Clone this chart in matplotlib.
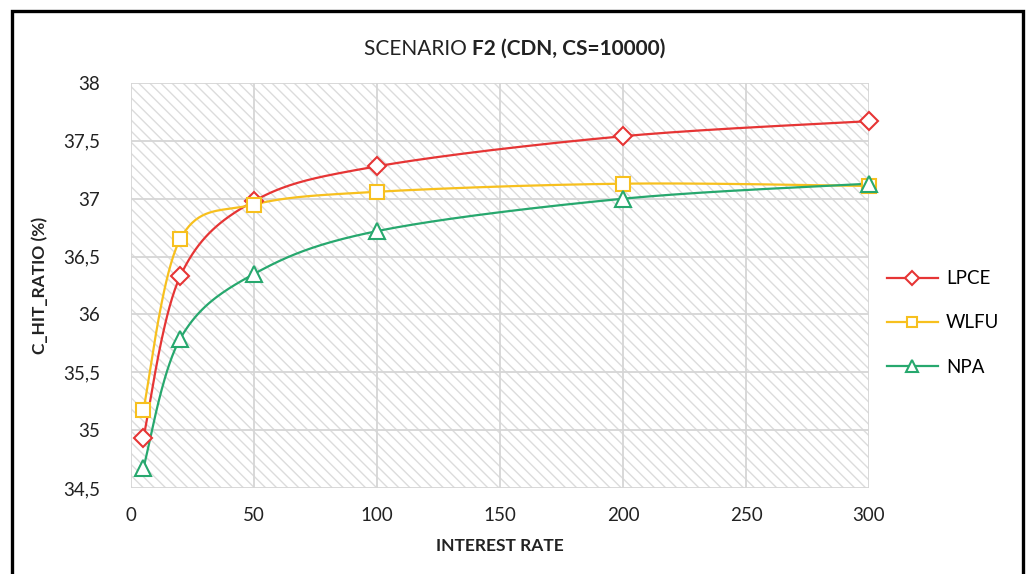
import numpy as np
import matplotlib
matplotlib.use("Agg")
import matplotlib.pyplot as plt
from matplotlib.lines import Line2D
from matplotlib.patches import Rectangle

plt.rcParams['font.family'] = ['Lato', 'DejaVu Sans']
plt.rcParams['hatch.color'] = '#dcdcdc'
plt.rcParams['hatch.linewidth'] = 1.0

interest_rate = [5, 20, 50, 100, 200, 300]
lpce = [34.93, 36.33, 36.98, 37.28, 37.54, 37.67]
wlfu = [35.17, 36.65, 36.95, 37.06, 37.13, 37.11]
npa = [34.67, 35.79, 36.35, 36.72, 37.00, 37.13]

series_names = ['LPCE', 'WLFU', 'NPA']
series_values = [lpce, wlfu, npa]
series_colors = ['#e63535', '#f7c01e', '#27a86e']
series_markers = ['D', 's', '^']
marker_sizes = [9, 10.5, 11.5]

xticks = [0, 50, 100, 150, 200, 250, 300]
yticks = [34.5, 35, 35.5, 36, 36.5, 37, 37.5, 38]
yticklabels = ['34,5', '35', '35,5', '36', '36,5', '37', '37,5', '38']


def smooth(xs, ys, n=40):
    """Excel-like smoothed line: Catmull-Rom Bezier through the points."""
    P = np.column_stack([xs, ys]).astype(float)
    ext = np.vstack([P[0], P, P[-1]])
    out = []
    for i in range(len(P) - 1):
        p0, p1, p2, p3 = ext[i], ext[i + 1], ext[i + 2], ext[i + 3]
        c1 = p1 + (p2 - p0) / 6.0
        c2 = p2 - (p3 - p1) / 6.0
        t = np.linspace(0, 1, n)[:, None]
        seg = ((1 - t) ** 3) * p1 + 3 * ((1 - t) ** 2) * t * c1 + 3 * (1 - t) * t ** 2 * c2 + t ** 3 * p2
        out.append(seg if i == 0 else seg[1:])
    out = np.vstack(out)
    return out[:, 0], out[:, 1]


fig = plt.figure(figsize=(10.30, 5.74), dpi=100)
ax = fig.add_axes([131 / 1030, 1 - 488 / 574, 738 / 1030, 405 / 574])

ax.set_facecolor('white')
ax.patch.set_hatch('\\\\\\')
ax.patch.set_edgecolor('#dcdcdc')
ax.patch.set_linewidth(0)

ax.set_xlim(0, 300)
ax.set_ylim(34.5, 38)
ax.set_xticks(xticks)
ax.set_xticklabels([str(v) for v in xticks])
ax.set_yticks(yticks)
ax.set_yticklabels(yticklabels)
ax.tick_params(length=0, labelsize=13.5, colors='#222222')
ax.tick_params(axis='y', pad=22)
ax.tick_params(axis='x', pad=14)
for s in ax.spines.values():
    s.set_visible(False)
ax.grid(True, color='#d6d6d6', linewidth=1.3, zorder=1)
ax.set_axisbelow(True)

handles = []
for name, vals, col, mk, ms in zip(series_names, series_values, series_colors, series_markers, marker_sizes):
    sx, sy = smooth(interest_rate, vals)
    ax.plot(sx, sy, color=col, linewidth=1.6, zorder=3, solid_capstyle='round')
    ax.plot(interest_rate, vals, linestyle='none', marker=mk, markersize=ms,
            markerfacecolor='white', markeredgecolor=col, markeredgewidth=1.5, zorder=4,
            clip_on=False)
    handles.append(Line2D([0], [0], color=col, linewidth=1.6, marker=mk, markersize=ms * 0.75,
                          markerfacecolor='white', markeredgecolor=col, markeredgewidth=1.5))

fig.legend(handles, series_names, loc='center left', bbox_to_anchor=(870 / 1030, 1 - 323 / 574),
           frameon=False, fontsize=13.5, handlelength=2.7, labelspacing=1.45, handletextpad=0.45)

ax.set_xlabel('INTEREST RATE', fontsize=12.5, fontweight='bold', labelpad=10, color='#222222')
fig.text(40 / 1030, 1 - 285 / 574, 'C_HIT_RATIO (%)', rotation=90, fontsize=12.5,
         fontweight='bold', ha='center', va='center', color='#222222')

ty = 1 - 49 / 574
t1 = fig.text(515 / 1030, ty, 'SCENARIO ', fontsize=15, ha='right', va='center', color='#222222')
t2 = fig.text(515 / 1030, ty, 'F2 (CDN, CS=10000)', fontsize=15, fontweight='bold',
              ha='left', va='center', color='#222222')
fig.canvas.draw()
r = fig.canvas.get_renderer()
w1 = t1.get_window_extent(r).width
w2 = t2.get_window_extent(r).width
cx = 515
t1.set_position(((cx - (w1 + w2) / 2 + w1) / 1030, ty))
t2.set_position(((cx - (w1 + w2) / 2 + w1) / 1030, ty))

fig.add_artist(Rectangle((12 / 1030, -0.05), (1023 - 12) / 1030, (574 - 11) / 574 + 0.05,
                         transform=fig.transFigure, fill=False, edgecolor='black', linewidth=2.4,
                         clip_on=False))

fig.savefig('out.png', dpi=100)
